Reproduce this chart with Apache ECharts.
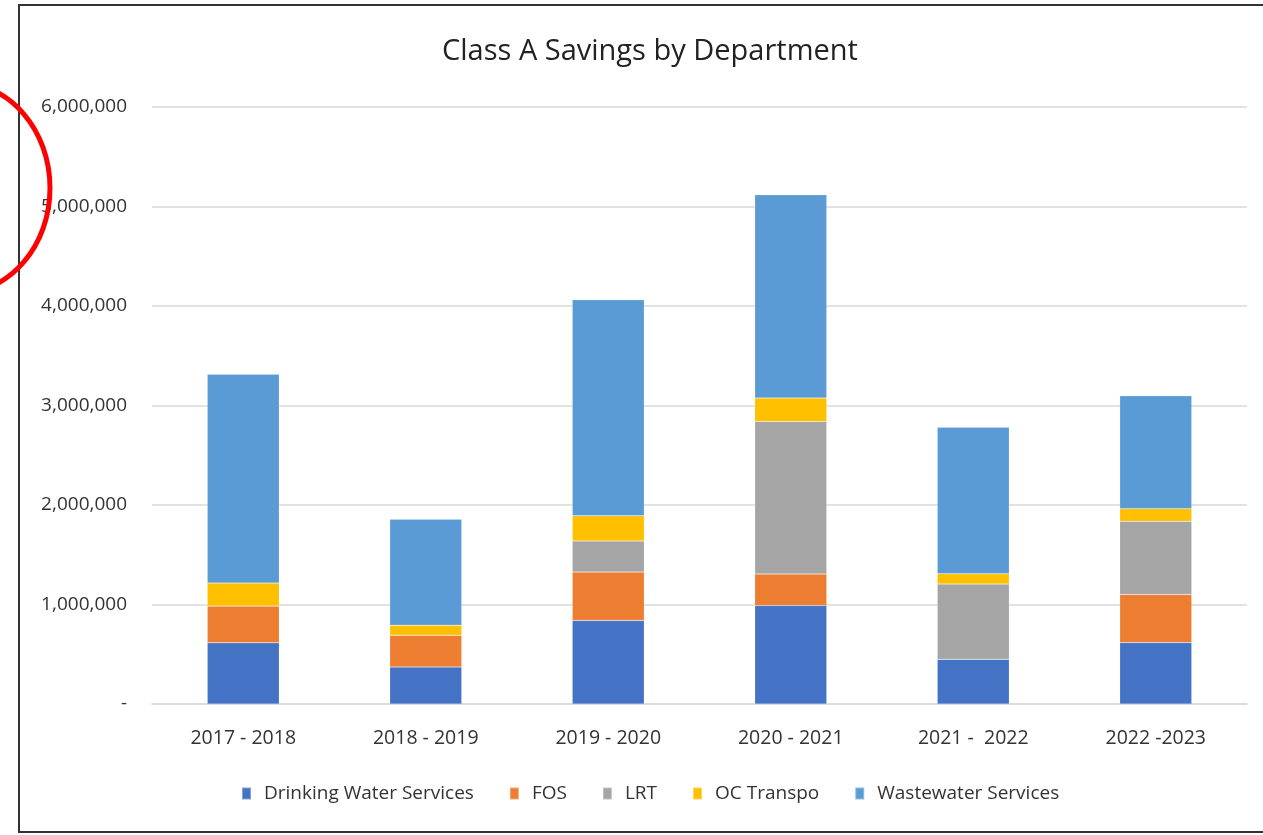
<!DOCTYPE html>
<html>
<head>
<meta charset="utf-8">
<script src="https://cdn.jsdelivr.net/npm/echarts@6/dist/echarts.min.js"></script>
<style>
html,body{margin:0;padding:0;background:#fff;}
#c{width:1263px;height:835px;}
</style>
</head>
<body>
<div id="c"></div>
<script>
const categories = ['2017 - 2018', '2018 - 2019', '2019 - 2020', '2020 - 2021', '2021 -  2022', '2022 -2023'];
const drinkingWater = [615000, 372000, 840000, 990000, 450000, 617000];
const fos = [370000, 320000, 486000, 316000, 0, 484000];
const lrt = [0, 0, 313000, 1534000, 755000, 735000];
const ocTranspo = [230000, 100000, 253000, 236000, 104000, 127000];
const wastewater = [2100000, 1065000, 2170000, 2042000, 1473000, 1134000];
const yTicks = [0, 1000000, 2000000, 3000000, 4000000, 5000000, 6000000];

const FONT = '"Open Sans", sans-serif';
const chart = echarts.init(document.getElementById('c'));

function mk(name, data, color) {
  return {
    name: name, type: 'bar', stack: 'total', data: data, barWidth: 72,
    itemStyle: { color: color, borderColor: 'rgba(255,255,255,0.35)', borderWidth: 0.5 },
    emphasis: { disabled: true }
  };
}

chart.setOption({
  animation: false,
  backgroundColor: '#fff',
  textStyle: { fontFamily: FONT },
  title: {
    text: 'Class A Savings by Department',
    left: 437, top: 32,
    textStyle: { fontFamily: FONT, fontSize: 29, fontWeight: 'normal', color: '#222' }
  },
  legend: {
    bottom: 27, left: 236,
    itemWidth: 9, itemHeight: 12, itemGap: 35,
    icon: 'rect',
    textStyle: { fontFamily: FONT, fontSize: 19, color: '#333', padding: [0, 0, 0, 8] },
    data: ['Drinking Water Services', 'FOS', 'LRT', 'OC Transpo', 'Wastewater Services']
  },
  grid: { left: 152, right: 16, top: 107, bottom: 131 },
  xAxis: {
    type: 'category', data: categories,
    axisLine: { lineStyle: { color: '#d9d9d9', width: 1.5 } },
    axisTick: { show: false },
    axisLabel: { fontFamily: FONT, fontSize: 19.5, color: '#333', margin: 24 }
  },
  yAxis: {
    type: 'value', min: yTicks[0], max: yTicks[yTicks.length - 1], interval: yTicks[1] - yTicks[0],
    axisLine: { show: false }, axisTick: { show: false },
    splitLine: { lineStyle: { color: '#d9d9d9', width: 1.5 } },
    axisLabel: {
      fontFamily: FONT, fontSize: 19, color: '#333', margin: 25,
      formatter: function (v) { return v === 0 ? '-' : v.toLocaleString('en-US'); }
    }
  },
  series: [
    mk('Drinking Water Services', drinkingWater, '#4472c4'),
    mk('FOS', fos, '#ed7d31'),
    mk('LRT', lrt, '#a5a5a5'),
    mk('OC Transpo', ocTranspo, '#ffc000'),
    mk('Wastewater Services', wastewater, '#5b9bd5')
  ],
  graphic: [
    { type: 'rect', shape: { x: 19, y: 5, width: 1260, height: 827 },
      style: { fill: 'none', stroke: '#333', lineWidth: 2 }, silent: true },
    { type: 'ellipse', shape: { cx: -40, cy: 188, rx: 90, ry: 105 },
      style: { fill: 'none', stroke: '#ff0000', lineWidth: 5 }, silent: true, z: 100 }
  ]
});
</script>
</body>
</html>
